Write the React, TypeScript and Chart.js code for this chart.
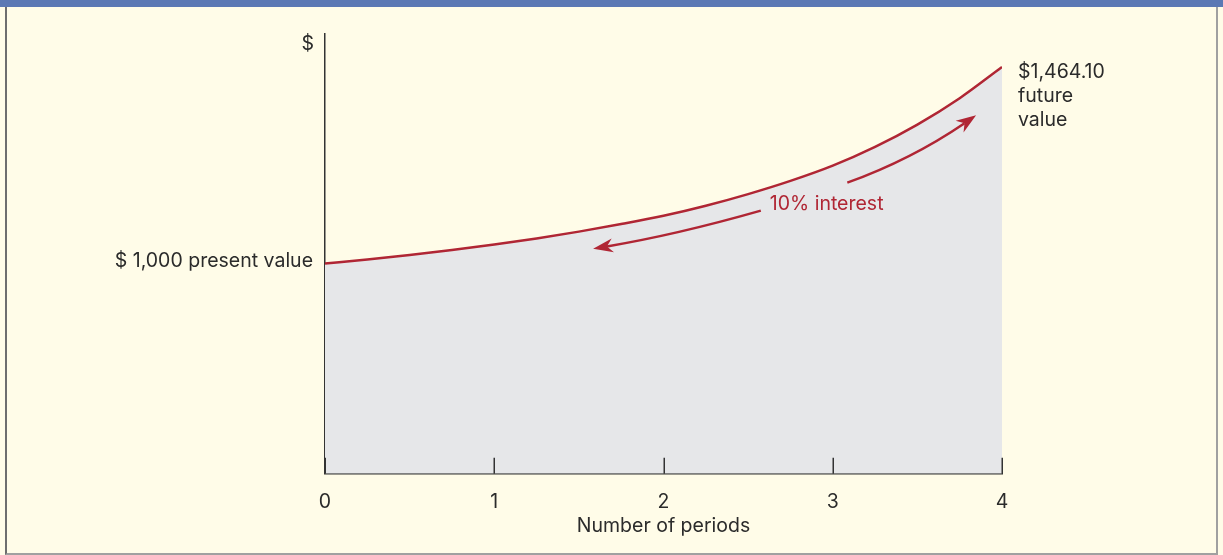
import React, { useEffect, useRef } from "react";
import { Chart, registerables } from "chart.js";

Chart.register(...registerables);

// ---- data ----
const periods = [0, 0.25, 0.5, 0.75, 1, 1.25, 1.5, 1.75, 2, 2.25, 2.5, 2.75, 3, 3.25, 3.5, 3.75, 4];
const values = [
  1000, 1009.6, 1020.2, 1032.0, 1045.0, 1059.4, 1075.5, 1093.3, 1112.9, 1136.6, 1164.1, 1195.3, 1231.3, 1275.6,
  1328.2, 1390.5, 1464.1,
];
const xTickValues = [0, 1, 2, 3, 4];
const xTitle = "Number of periods";
const presentLabel = "$ 1,000 present value";
const futureLabels = ["$1,464.10", "future", "value"];
const interestLabel = "10% interest";
const interestPos = [2.964, 1141];
const yAxisLabel = "$";
// arrow paths (start, middle, tip) in data units: [period, $]
const arrowUp = [
  [3.086, 1191],
  [3.465, 1258],
  [3.847, 1350],
];
const arrowDown = [
  [2.575, 1125],
  [2.077, 1074],
  [1.584, 1035],
];
const yMin = 504;
const yMax = 1542;

const RED = "#b02634";
const TEXT = "#2b2b2b";
const FONT = "Inter, sans-serif";
const FONT_SIZE = 19.5;

const annotations = {
  id: "annotations",
  afterDraw(chart: any) {
    const { ctx, chartArea } = chart;
    const xs = chart.scales.x;
    const ys = chart.scales.y;
    ctx.save();

    // inward tick marks
    ctx.strokeStyle = "#333";
    ctx.lineWidth = 1.5;
    xTickValues.forEach((v) => {
      const px = Math.round(xs.getPixelForValue(v)) + 0.25;
      ctx.beginPath();
      ctx.moveTo(px, chartArea.bottom - 16);
      ctx.lineTo(px, chartArea.bottom);
      ctx.stroke();
    });

    // texts
    ctx.fillStyle = TEXT;
    ctx.font = `${FONT_SIZE}px ${FONT}`;
    ctx.textBaseline = "middle";
    ctx.textAlign = "right";
    ctx.fillText(yAxisLabel, chartArea.left - 11, chartArea.top + 10);
    ctx.fillText(presentLabel, chartArea.left - 12, ys.getPixelForValue(values[0]) - 2);

    ctx.textAlign = "left";
    const fx = xs.getPixelForValue(periods[periods.length - 1]) + 16;
    const fy = ys.getPixelForValue(values[values.length - 1]) + 5;
    futureLabels.forEach((t, i) => ctx.fillText(t, fx, fy + i * 24));

    // arrows
    const drawArrow = (pts: number[][]) => {
      const P = pts.map(([t, v]) => [xs.getPixelForValue(t), ys.getPixelForValue(v)]);
      const [S, M, E] = P;
      const C = [2 * M[0] - (S[0] + E[0]) / 2, 2 * M[1] - (S[1] + E[1]) / 2];
      let dx = E[0] - C[0];
      let dy = E[1] - C[1];
      const len = Math.hypot(dx, dy);
      dx /= len;
      dy /= len;
      const px = -dy;
      const py = dx;
      const headLen = 20;
      const notch = 14;
      const half = 7;
      const endX = E[0] - dx * notch;
      const endY = E[1] - dy * notch;
      ctx.strokeStyle = RED;
      ctx.lineWidth = 2.5;
      ctx.beginPath();
      ctx.moveTo(S[0], S[1]);
      ctx.quadraticCurveTo(C[0], C[1], endX, endY);
      ctx.stroke();
      ctx.fillStyle = RED;
      ctx.beginPath();
      ctx.moveTo(E[0], E[1]);
      ctx.lineTo(E[0] - dx * headLen + px * half, E[1] - dy * headLen + py * half);
      ctx.lineTo(endX, endY);
      ctx.lineTo(E[0] - dx * headLen - px * half, E[1] - dy * headLen - py * half);
      ctx.closePath();
      ctx.fill();
    };
    drawArrow(arrowUp);
    drawArrow(arrowDown);

    // interest label
    ctx.fillStyle = RED;
    ctx.textAlign = "center";
    ctx.fillText(interestLabel, xs.getPixelForValue(interestPos[0]), ys.getPixelForValue(interestPos[1]));

    ctx.restore();
  },
};

export default function App() {
  const ref = useRef<HTMLCanvasElement>(null);

  useEffect(() => {
    if (!ref.current) return;
    const chart = new Chart(ref.current, {
      type: "line",
      data: {
        datasets: [
          {
            data: periods.map((p, i) => ({ x: p, y: values[i] })),
            borderColor: RED,
            borderWidth: 2.5,
            backgroundColor: "#e6e7e9",
            fill: "start",
            pointRadius: 0,
            cubicInterpolationMode: "monotone",
          },
        ],
      },
      options: {
        animation: false,
        responsive: false,
        maintainAspectRatio: false,
        devicePixelRatio: 1,
        layout: { padding: { left: 325, right: 221, top: 34, bottom: 13 } },
        plugins: { legend: { display: false }, tooltip: { enabled: false } },
        scales: {
          x: {
            type: "linear",
            min: 0,
            max: 4,
            z: 1,
            afterBuildTicks: (scale: any) => {
              scale.ticks = xTickValues.map((v) => ({ value: v }));
            },
            ticks: {
              stepSize: 1,
              padding: 17,
              color: TEXT,
              font: { family: FONT, size: FONT_SIZE },
              maxRotation: 0,
            },
            grid: { display: false, drawTicks: false },
            border: { display: true, color: "#333", width: 1.5 },
            title: {
              display: true,
              text: xTitle,
              color: TEXT,
              font: { family: FONT, size: FONT_SIZE },
              padding: { top: -16.5, bottom: 4 },
            },
          },
          y: {
            type: "linear",
            min: yMin,
            max: yMax,
            z: 1,
            ticks: { display: false },
            grid: { display: false, drawTicks: false },
            border: { display: true, color: "#333", width: 1.5 },
          },
        },
      },
      plugins: [annotations],
    });
    return () => chart.destroy();
  }, []);

  return (
    <div
      style={{
        position: "fixed",
        left: 0,
        top: 0,
        width: 1223,
        height: 555,
        background: "#fffce8",
        overflow: "hidden",
      }}
    >
      <div style={{ position: "absolute", left: 0, top: 0, width: 1223, height: 7, background: "#5b78b4" }} />
      <div
        style={{
          position: "absolute",
          left: 5,
          top: 7,
          width: 1209,
          height: 546,
          borderLeft: "2px solid #6e6e6e",
          borderRight: "2px solid #a0a0a0",
          borderBottom: "2px solid #a0a0a0",
        }}
      />
      <canvas ref={ref} width={1223} height={555} style={{ position: "absolute", left: 0, top: 0, width: 1223, height: 555 }} />
    </div>
  );
}
